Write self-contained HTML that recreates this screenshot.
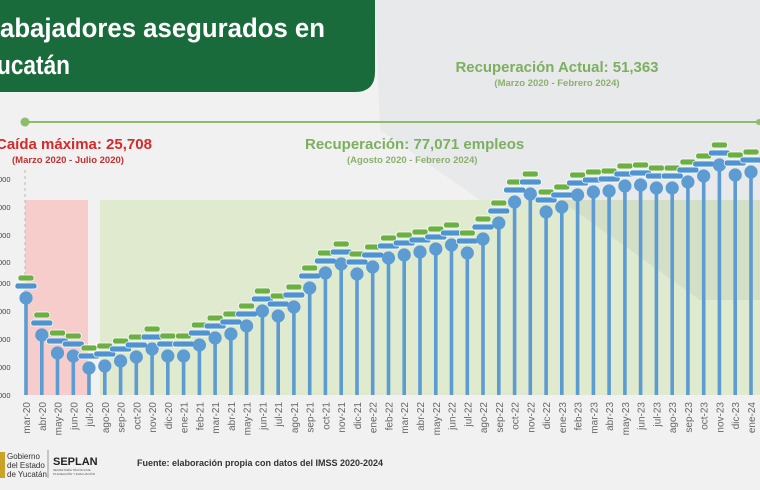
<!DOCTYPE html>
<html><head><meta charset="utf-8"><style>
html,body{margin:0;padding:0;width:760px;height:490px;overflow:hidden;background:#f1f1f1}
svg{display:block;font-family:"Liberation Sans",sans-serif}
</style></head><body>
<svg width="760" height="490" viewBox="0 0 760 490">
<defs>
<g id="b"><line x1="0" y1="0" x2="0" y2="400" stroke="#5d9bd3" stroke-width="3.6"/><circle r="6.6" fill="#5d9bd3"/><rect x="-11" y="-15" width="22" height="6" rx="2.5" fill="#4f93d0" stroke="#fff" stroke-width="0.7"/><rect x="-8" y="-23" width="16" height="6" rx="2.5" fill="#6cb043" stroke="#fff" stroke-width="0.7"/></g>
</defs>
<rect width="760" height="490" fill="#f1f1f1"/>
<polygon points="375,0 760,0 760,300 700,300 480,200 380,130" fill="#e8e9ea"/>
<rect x="25" y="200" width="63" height="195" fill="#f6cdcb"/>
<rect x="100" y="200" width="660" height="195" fill="#dfeacf"/>
<polygon points="560,200 760,200 760,300 700,300" fill="#d3dfc6"/>
<path d="M0 0H375V72Q375 92 355 92H0Z" fill="#1a6b3c"/>
<text x="0" y="37" font-size="27" font-weight="bold" fill="#fff" textLength="325" lengthAdjust="spacingAndGlyphs">abajadores asegurados en</text>
<text x="-3" y="74" font-size="27" font-weight="bold" fill="#fff" textLength="73" lengthAdjust="spacingAndGlyphs">ucatán</text>
<text x="557" y="72" font-size="15" font-weight="bold" fill="#7cb060" text-anchor="middle" textLength="203" lengthAdjust="spacingAndGlyphs">Recuperación Actual: 51,363</text>
<text x="557" y="86" font-size="9.5" font-weight="bold" fill="#8ab06e" text-anchor="middle">(Marzo 2020 - Febrero 2024)</text>
<line x1="25" y1="122" x2="760" y2="122" stroke="#8dbd6c" stroke-width="2"/>
<circle cx="25" cy="122" r="4.5" fill="#8dbd6c"/><circle cx="759" cy="122" r="3" fill="#8dbd6c"/>
<text x="-4" y="149" font-size="15" font-weight="bold" fill="#d42a2a">Caída máxima: 25,708</text>
<text x="12" y="163" font-size="9.5" font-weight="bold" fill="#c43030">(Marzo 2020 - Julio 2020)</text>
<text x="305" y="149" font-size="15" font-weight="bold" fill="#7cb060">Recuperación: 77,071 empleos</text>
<text x="347" y="163" font-size="9.5" font-weight="bold" fill="#8ab06e">(Agosto 2020 - Febrero 2024)</text>
<line x1="25" y1="170" x2="25" y2="395" stroke="#bbb" stroke-dasharray="3,3"/>
<g font-size="7.5" fill="#444">
<text x="-2" y="182">000</text><text x="-2" y="210">000</text><text x="-2" y="238">000</text><text x="-2" y="265">000</text><text x="-2" y="286">000</text><text x="-2" y="314">000</text><text x="-2" y="342">000</text><text x="-2" y="370">000</text><text x="-2" y="398">000</text>
</g>
<svg x="0" y="0" width="760" height="395" overflow="hidden">
<use href="#b" x="26" y="298"/><use href="#b" x="41.8" y="335"/><use href="#b" x="57.5" y="353"/><use href="#b" x="73.3" y="356"/><use href="#b" x="89" y="368"/><use href="#b" x="104.8" y="366"/><use href="#b" x="120.6" y="361"/><use href="#b" x="136.3" y="357"/><use href="#b" x="152.1" y="349"/><use href="#b" x="167.8" y="356"/><use href="#b" x="183.6" y="356"/><use href="#b" x="199.4" y="345"/><use href="#b" x="215.1" y="338"/><use href="#b" x="230.9" y="334"/><use href="#b" x="246.6" y="326"/><use href="#b" x="262.4" y="311"/><use href="#b" x="278.2" y="316"/><use href="#b" x="293.9" y="307"/><use href="#b" x="309.7" y="288"/><use href="#b" x="325.4" y="273"/><use href="#b" x="341.2" y="264"/><use href="#b" x="357" y="274"/><use href="#b" x="372.7" y="267"/><use href="#b" x="388.5" y="258"/><use href="#b" x="404.2" y="255"/><use href="#b" x="420" y="252"/><use href="#b" x="435.8" y="249"/><use href="#b" x="451.5" y="245"/><use href="#b" x="467.3" y="253"/><use href="#b" x="483" y="239"/><use href="#b" x="498.8" y="223"/><use href="#b" x="514.6" y="202"/><use href="#b" x="530.3" y="194"/><use href="#b" x="546.1" y="212"/><use href="#b" x="561.8" y="207"/><use href="#b" x="577.6" y="195"/><use href="#b" x="593.4" y="192"/><use href="#b" x="609.1" y="191"/><use href="#b" x="624.9" y="186"/><use href="#b" x="640.6" y="185"/><use href="#b" x="656.4" y="188"/><use href="#b" x="672.2" y="188"/><use href="#b" x="687.9" y="182"/><use href="#b" x="703.7" y="176"/><use href="#b" x="719.4" y="165"/><use href="#b" x="735.2" y="175"/><use href="#b" x="751" y="172"/>
</svg>
<g font-size="10" fill="#666" text-anchor="end">
<text transform="translate(30,402) rotate(-90)">mar-20</text><text transform="translate(45.8,402) rotate(-90)">abr-20</text><text transform="translate(61.5,402) rotate(-90)">may-20</text><text transform="translate(77.3,402) rotate(-90)">jun-20</text><text transform="translate(93,402) rotate(-90)">jul-20</text><text transform="translate(108.8,402) rotate(-90)">ago-20</text><text transform="translate(124.6,402) rotate(-90)">sep-20</text><text transform="translate(140.3,402) rotate(-90)">oct-20</text><text transform="translate(156.1,402) rotate(-90)">nov-20</text><text transform="translate(171.8,402) rotate(-90)">dic-20</text><text transform="translate(187.6,402) rotate(-90)">ene-21</text><text transform="translate(203.4,402) rotate(-90)">feb-21</text><text transform="translate(219.1,402) rotate(-90)">mar-21</text><text transform="translate(234.9,402) rotate(-90)">abr-21</text><text transform="translate(250.6,402) rotate(-90)">may-21</text><text transform="translate(266.4,402) rotate(-90)">jun-21</text><text transform="translate(282.2,402) rotate(-90)">jul-21</text><text transform="translate(297.9,402) rotate(-90)">ago-21</text><text transform="translate(313.7,402) rotate(-90)">sep-21</text><text transform="translate(329.4,402) rotate(-90)">oct-21</text><text transform="translate(345.2,402) rotate(-90)">nov-21</text><text transform="translate(361,402) rotate(-90)">dic-21</text><text transform="translate(376.7,402) rotate(-90)">ene-22</text><text transform="translate(392.5,402) rotate(-90)">feb-22</text><text transform="translate(408.2,402) rotate(-90)">mar-22</text><text transform="translate(424,402) rotate(-90)">abr-22</text><text transform="translate(439.8,402) rotate(-90)">may-22</text><text transform="translate(455.5,402) rotate(-90)">jun-22</text><text transform="translate(471.3,402) rotate(-90)">jul-22</text><text transform="translate(487,402) rotate(-90)">ago-22</text><text transform="translate(502.8,402) rotate(-90)">sep-22</text><text transform="translate(518.6,402) rotate(-90)">oct-22</text><text transform="translate(534.3,402) rotate(-90)">nov-22</text><text transform="translate(550.1,402) rotate(-90)">dic-22</text><text transform="translate(565.8,402) rotate(-90)">ene-23</text><text transform="translate(581.6,402) rotate(-90)">feb-23</text><text transform="translate(597.4,402) rotate(-90)">mar-23</text><text transform="translate(613.1,402) rotate(-90)">abr-23</text><text transform="translate(628.9,402) rotate(-90)">may-23</text><text transform="translate(644.6,402) rotate(-90)">jun-23</text><text transform="translate(660.4,402) rotate(-90)">jul-23</text><text transform="translate(676.2,402) rotate(-90)">ago-23</text><text transform="translate(691.9,402) rotate(-90)">sep-23</text><text transform="translate(707.7,402) rotate(-90)">oct-23</text><text transform="translate(723.4,402) rotate(-90)">nov-23</text><text transform="translate(739.2,402) rotate(-90)">dic-23</text><text transform="translate(755,402) rotate(-90)">ene-24</text>
</g>
<rect x="0" y="452" width="5" height="26" fill="#c9a227"/>
<text x="7" y="459" font-size="8" fill="#333">Gobierno</text>
<text x="7" y="468" font-size="8" fill="#333">del Estado</text>
<text x="7" y="477" font-size="8" fill="#333">de Yucatán</text>
<line x1="48" y1="450" x2="48" y2="478" stroke="#999"/>
<text x="53" y="465" font-size="11" font-weight="bold" fill="#222">SEPLAN</text>
<text x="53" y="471" font-size="3" fill="#555">SECRETARÍA TÉCNICA DE</text>
<text x="53" y="475" font-size="3" fill="#555">PLANEACIÓN Y EVALUACIÓN</text>
<text x="137" y="466" font-size="9" font-weight="bold" fill="#333">Fuente: elaboración propia con datos del IMSS 2020-2024</text>
</svg>
</body></html>
